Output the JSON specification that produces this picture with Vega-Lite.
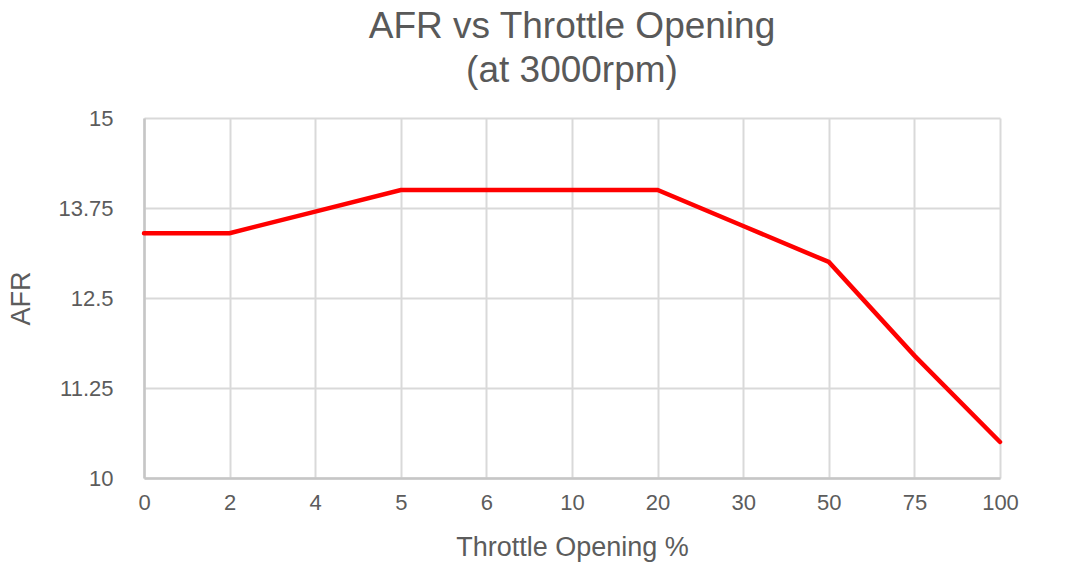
{
  "$schema": "https://vega.github.io/schema/vega-lite/v6.json",
  "width": 856,
  "height": 360,
  "autosize": "none",
  "padding": {"left": 144, "top": 118, "right": 78, "bottom": 93},
  "background": "white",
  "title": {
    "text": ["AFR vs Throttle Opening", "(at 3000rpm)"],
    "fontSize": 37,
    "fontWeight": "normal",
    "color": "#595959",
    "lineHeight": 44,
    "anchor": "middle",
    "frame": "group",
    "offset": 17
  },
  "data": {
    "values": [
      {"throttle": "0", "afr": 13.4},
      {"throttle": "2", "afr": 13.4},
      {"throttle": "4", "afr": 13.7},
      {"throttle": "5", "afr": 14.0},
      {"throttle": "6", "afr": 14.0},
      {"throttle": "10", "afr": 14.0},
      {"throttle": "20", "afr": 14.0},
      {"throttle": "30", "afr": 13.5},
      {"throttle": "50", "afr": 13.0},
      {"throttle": "75", "afr": 11.7},
      {"throttle": "100", "afr": 10.5}
    ]
  },
  "mark": {"type": "line", "color": "#ff0000", "strokeWidth": 4.5, "strokeCap": "round", "strokeJoin": "miter"},
  "encoding": {
    "x": {
      "field": "throttle",
      "type": "ordinal",
      "sort": null,
      "scale": {"type": "point", "padding": 0},
      "title": "Throttle Opening %",
      "axis": {
        "labelAngle": 0,
        "ticks": false,
        "labelPadding": 14,
        "titlePadding": 21,
        "grid": true
      }
    },
    "y": {
      "field": "afr",
      "type": "quantitative",
      "scale": {"domain": [10, 15], "nice": false, "zero": false},
      "title": "AFR",
      "axis": {
        "values": [10, 11.25, 12.5, 13.75, 15],
        "format": ".4~g",
        "ticks": false,
        "labelPadding": 31,
        "titlePadding": 22,
        "grid": true
      }
    }
  },
  "config": {
    "font": "Liberation Sans",
    "view": {"stroke": null},
    "axis": {
      "domainColor": "#c6c6c6",
      "domainWidth": 2.5,
      "gridColor": "#d9d9d9",
      "gridWidth": 2,
      "gridOpacity": 1,
      "labelColor": "#5c5c5c",
      "labelFontSize": 22,
      "titleColor": "#5c5c5c",
      "titleFontSize": 27,
      "titleFontWeight": "normal"
    }
  }
}
